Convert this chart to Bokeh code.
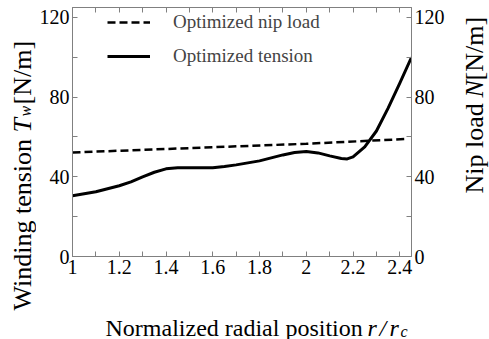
import math
from bokeh.plotting import figure
from bokeh.layouts import row, column
from bokeh.models import Range1d, LinearAxis, FixedTicker, Label, Legend, LegendItem
from bokeh.embed import file_html
from bokeh.resources import INLINE

# ---- data ----
r_tension = [1.00, 1.05, 1.10, 1.15, 1.20, 1.25, 1.30, 1.35, 1.40, 1.45, 1.50,
             1.55, 1.60, 1.65, 1.70, 1.75, 1.80, 1.85, 1.90, 1.95, 2.00, 2.05,
             2.10, 2.15, 2.175, 2.20, 2.25, 2.30, 2.35, 2.40, 2.45]
tension = [30.5, 31.5, 32.5, 34.0, 35.5, 37.5, 40.0, 42.3, 44.0, 44.6, 44.6,
           44.5, 44.6, 45.2, 46.0, 47.0, 48.0, 49.5, 51.0, 52.2, 52.7, 52.0,
           50.5, 49.2, 49.0, 50.0, 55.0, 63.0, 74.5, 87.0, 100.0]

r_nip = [1.00, 2.00, 2.43]
nip_load = [52.2, 56.6, 59.0]

x_ticks = [1.0, 1.2, 1.4, 1.6, 1.8, 2.0, 2.2, 2.4]
x_tick_labels = ["1", "1.2", "1.4", "1.6", "1.8", "2", "2.2", "2.4"]
x_minor_ticks = [1.1, 1.3, 1.5, 1.7, 1.9, 2.1, 2.3]
y_ticks = [0, 40, 80, 120]
y_minor_ticks = [20, 60, 100]

FONT = "Liberation Serif"
GREY = "#808080"

W, H = 489, 339
LW = 36          # left title strip width
RW = 40          # right title strip width
TOP_H = 300      # height of chart
MW = W - LW - RW

# ---------------- main chart ----------------
p = figure(width=MW, height=TOP_H, output_backend="svg",
           toolbar_location=None,
           x_range=Range1d(1.0, 2.45), y_range=Range1d(0, 125),
           min_border_left=72 - LW, min_border_right=W - RW - 411,
           min_border_top=7, min_border_bottom=TOP_H - 256)
p.extra_y_ranges = {"right": Range1d(0, 125)}
p.xgrid.visible = False
p.ygrid.visible = False
p.outline_line_color = GREY
p.background_fill_color = "white"
p.border_fill_color = "white"

bottom_axis = p.below[0]
left_axis = p.left[0]
right_axis = LinearAxis(y_range_name="right")
top_axis = LinearAxis()
p.add_layout(right_axis, "right")
p.add_layout(top_axis, "above")

xt = FixedTicker(ticks=x_ticks, minor_ticks=x_minor_ticks)
yt = FixedTicker(ticks=y_ticks, minor_ticks=y_minor_ticks)
bottom_axis.ticker = xt
top_axis.ticker = xt
left_axis.ticker = yt
right_axis.ticker = yt
bottom_axis.major_label_overrides = {x: s for x, s in zip(x_ticks, x_tick_labels)}

for ax in [bottom_axis, left_axis, right_axis, top_axis]:
    ax.axis_line_color = GREY
    ax.major_tick_line_color = GREY
    ax.minor_tick_line_color = GREY
    ax.major_tick_in = 5
    ax.major_tick_out = 0
    ax.minor_tick_in = 5
    ax.minor_tick_out = 0
    ax.major_label_text_font = FONT
    ax.major_label_text_font_size = "20px"
    ax.major_label_text_color = "black"
    ax.major_label_standoff = 3
top_axis.major_label_text_font_size = "0px"
top_axis.major_label_text_color = None
top_axis.major_label_standoff = 0

nip = p.line(r_nip, nip_load, line_width=2.5, line_dash="8 4", color="black")
ten = p.line(r_tension, tension, line_width=3, color="black", line_join="round")

legend = Legend(items=[LegendItem(label="Optimized nip load", renderers=[nip]),
                       LegendItem(label="Optimized tension", renderers=[ten])],
                location=(35, 189), border_line_color=None,
                background_fill_alpha=0, glyph_width=43, glyph_height=20,
                label_height=20, label_standoff=23, spacing=12, padding=0,
                margin=0, label_text_font=FONT, label_text_font_size="19px")
p.add_layout(legend)

# ---------------- title strips ----------------
def strip(w, h):
    f = figure(width=w, height=h, output_backend="svg", toolbar_location=None,
               x_range=Range1d(0, w), y_range=Range1d(0, h),
               x_axis_location=None, y_axis_location=None, min_border=0)
    f.outline_line_color = None
    f.grid.visible = False
    f.background_fill_color = "white"
    f.border_fill_color = "white"
    return f

def lab(f, h, x, y, text, size="26px", style="normal", angle=0.0):
    f.add_layout(Label(x=x, y=h - y, x_units="screen", y_units="screen", text=text,
                       text_font=FONT, text_font_size=size, text_font_style=style,
                       text_align="left", text_baseline="alphabetic",
                       angle=angle, text_color="black"))

A = math.pi / 2
left_fig = strip(LW, H)
lx = 22
lab(left_fig, H, lx, 310, "Winding tension", angle=A)
lab(left_fig, H, lx, 132, "T", style="italic", angle=A)
lab(left_fig, H, lx + 3, 116, "w", size="16px", style="italic", angle=A)
lab(left_fig, H, lx, 104, "[N/m]", angle=A)

right_fig = strip(RW, H)
rx = 25
lab(right_fig, H, rx, 193, "Nip load", angle=A)
lab(right_fig, H, rx, 97, "N", style="italic", angle=A)
lab(right_fig, H, rx, 80, "[N/m]", angle=A)

BH = H - TOP_H
bottom_fig = strip(MW, BH)
# the nested strip's label origin is observed to sit one left-strip width further right
ox = 2 * LW
lab(bottom_fig, BH, 105 - ox, 27, "Normalized radial position", size="24px")
lab(bottom_fig, BH, 367 - ox, 27, "r", size="24px", style="italic")
lab(bottom_fig, BH, 379 - ox, 27, "/", size="24px", style="italic")
lab(bottom_fig, BH, 389 - ox, 27, "r", size="24px", style="italic")
lab(bottom_fig, BH, 400 - ox, 31, "c", size="16px", style="italic")

layout = row(left_fig, column(p, bottom_fig), right_fig)

open("out.html", "w").write(file_html(layout, INLINE))
